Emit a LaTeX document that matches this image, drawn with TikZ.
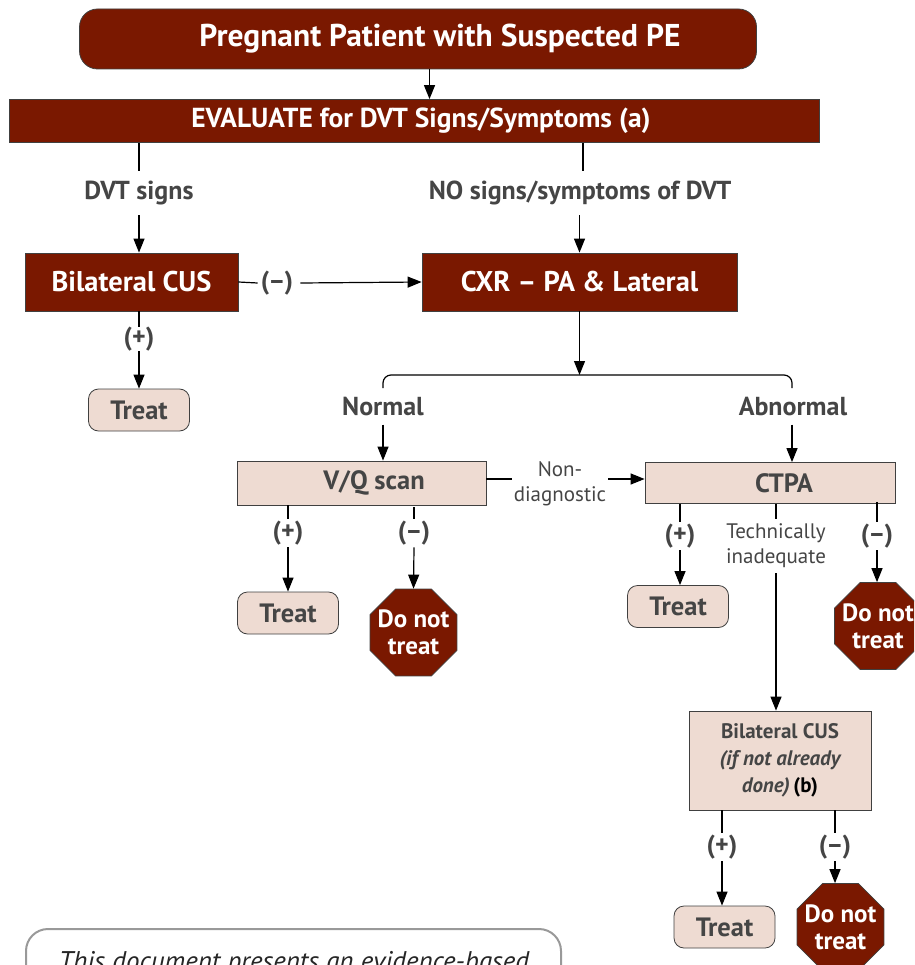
\documentclass[tikz,border=0pt]{standalone}
\usepackage{fontspec}
\setmainfont{PT Sans}
\usetikzlibrary{arrows.meta,shapes.geometric}
\definecolor{dred}{HTML}{7A1800}
\definecolor{lfill}{HTML}{EEDBD2}
\definecolor{tgray}{HTML}{454545}
\newcommand{\zw}[1]{\makebox[0pt]{#1}}
\begin{document}
\begin{tikzpicture}[x=1pt,y=-1pt,
  darkbox/.style={draw=black!75, line width=0.8pt, fill=dred, text=white, inner sep=0pt,
    font=\bfseries\fontsize{28.5}{30}\selectfont},
  lightbox/.style={draw=black!75, line width=0.8pt, fill=lfill, text=tgray, inner sep=0pt,
    font=\bfseries\fontsize{26.5}{28}\selectfont},
  treatbox/.style={lightbox, rounded corners=10pt, minimum width=101pt, minimum height=42pt},
  stopsign/.style={regular polygon, regular polygon sides=8, minimum size=94pt, inner sep=0pt,
    draw=black!75, line width=0.8pt, fill=dred, text=white, align=center,
    font=\bfseries\fontsize{25}{27}\selectfont},
  lab/.style={text=tgray, inner xsep=3pt, inner ysep=2pt, font=\bfseries\fontsize{26}{28}\selectfont},
  biglab/.style={lab, inner ysep=10pt},
  note/.style={text=tgray, inner xsep=1pt, inner ysep=5pt, align=center, font=\fontsize{21}{25}\selectfont},
  conn/.style={line width=1.2pt, draw=black},
  arr/.style={conn, -{Triangle[length=14pt,width=11pt]}},
]
\useasboundingbox (0,0) rectangle (914,965);
\clip (0,0) rectangle (914,965);

% main boxes
\node[darkbox, rounded corners=18pt, minimum width=677pt, minimum height=60pt,
  font=\bfseries\fontsize{31.5}{33}\selectfont] (title) at (418,39) {\hspace*{44pt}Pregnant Patient with Suspected PE};
\node[darkbox, minimum width=810pt, minimum height=43pt, font=\bfseries\fontsize{27.5}{30}\selectfont] (eval) at (414,121) {\hspace*{14pt}EVALUATE for DVT Signs/Symptoms (a)};
\node[darkbox, minimum width=213pt, minimum height=58pt] (cus) at (131.5,282) {Bilateral CUS};
\node[darkbox, minimum width=315pt, minimum height=58pt] (cxr) at (579.5,282) {CXR -- PA \& Lateral};

\node[treatbox] (treatA) at (139,410) {Treat};
\node[lightbox, minimum width=249pt, minimum height=44pt] (vq) at (361.5,483) {\hspace*{25pt}V/Q scan};
\node[lightbox, minimum width=250pt, minimum height=41pt] (ctpa) at (770,483) {\hspace*{28pt}CTPA};
\node[treatbox] (treatB) at (288,613) {Treat};
\node[stopsign] (stopA) at (413.5,632.5) {\zw{Do not}\\\zw{treat}};
\node[treatbox] (treatC) at (678,606.5) {Treat};
\node[stopsign] (stopB) at (878,626) {\zw{Do not}\\\zw{treat}};
\node[lightbox, minimum width=182pt, minimum height=99pt, align=center,
  font=\bfseries\fontsize{21}{27}\selectfont] (cusb) at (780,760.5)
  {Bilateral CUS\\\itshape (if not already\\\itshape done)\,\upshape\color{black}(b)};
\node[treatbox] (treatD) at (724.5,927) {Treat};
\node[stopsign] (stopC) at (840.5,927) {\zw{Do not}\\\zw{treat}};

% labels
\node[biglab] (ldvt) at (139,193) {DVT signs};
\node[biglab] (lno) at (580,193) {NO signs/symptoms of DVT};
\node[lab] (lcusneg) at (277,283) {(--)};
\node[lab, inner ysep=0pt] (lcuspos) at (139,339) {(+)};
\node[biglab, inner ysep=8pt] (lnorm) at (383,407) {Normal};
\node[biglab, inner ysep=8pt] (labn) at (793,407) {Abnormal};
\node[note, inner xsep=2pt] (lnond) at (560,484) {Non-\\diagnostic};
\node[lab] (lvqpos) at (288,533) {(+)};
\node[lab] (lvqneg) at (414,533) {(--)};
\node[lab] (lctpos) at (680,536) {(+)};
\node[note] (ltech) at (776,546) {Technically\\inadequate};
\node[lab] (lctneg) at (877,536) {(--)};
\node[lab] (lbpos) at (722,847) {(+)};
\node[lab] (lbneg) at (835,847) {(--)};

% coordinates
\coordinate (brM) at (579.5,375);
\coordinate (brL) at (383,388);
\coordinate (brR) at (792,388);

% connectors
\draw[arr] (title.south -| 429.5,0) -- (eval.north -| 429.5,0);
\draw[conn] (eval.south -| ldvt) -- (ldvt.north);
\draw[arr] (ldvt.south) -- (cus.north -| ldvt);
\draw[conn] (eval.south -| 583,0) -- (lno.north -| 583,0);
\draw[arr] (lno.south -| 579.5,0) -- (cxr.north);
\draw[conn] (cus.east) -- (lcusneg.west);
\draw[arr] ([xshift=4pt]lcusneg.east) -- (cxr.west);
\draw[conn] (cus.south -| lcuspos) -- (lcuspos.north);
\draw[arr] (lcuspos.south) -- (treatA.north);
\draw[arr] (cxr.south) -- (brM);
\draw[conn, rounded corners=8pt] (brL) -- (brL |- brM) -- (brR |- brM) -- (brR);
\draw[arr] (lnorm.south) -- (vq.north -| lnorm);
\draw[arr] (labn.south -| brR) -- (ctpa.north -| brR);
\draw[conn] (vq.east |- 0,479) -- (lnond.west |- 0,479);
\draw[arr] (lnond.east |- 0,479) -- (ctpa.west |- 0,479);
\draw[conn] (vq.south -| lvqpos) -- (lvqpos.north);
\draw[arr] (lvqpos.south) -- (treatB.north);
\draw[conn] ([yshift=-2pt]vq.south -| lvqneg) -- (lvqneg.north);
\draw[arr] (lvqneg.south) -- (stopA.north);
\draw[conn] (ctpa.south -| lctpos) -- (lctpos.north);
\draw[arr] (lctpos.south) -- (treatC.north -| lctpos);
\draw[conn] (ctpa.south -| ltech) -- (ltech.north);
\draw[arr] (ltech.south) -- (cusb.north -| ltech);
\draw[conn] ([yshift=2pt]ctpa.south -| lctneg) -- (lctneg.north);
\draw[arr] (lctneg.south) -- (stopB.north -| lctneg);
\draw[conn] (cusb.south -| lbpos) -- (lbpos.north);
\draw[arr] (lbpos.south) -- (treatD.north -| lbpos);
\draw[conn] (cusb.south -| lbneg) -- (lbneg.north);
\draw[arr] (lbneg.south) -- (stopC.north -| lbneg);

% note box
\node[draw=black!40, line width=2pt, rounded corners=22pt, anchor=north west,
  minimum width=535pt, minimum height=150pt] (notebox) at (25,928) {};
\node[text=black!85, inner sep=0pt, font=\itshape\fontsize{27}{30}\selectfont] (notetext) at (294,964)
  {This document presents an evidence-based};
\end{tikzpicture}
\end{document}
